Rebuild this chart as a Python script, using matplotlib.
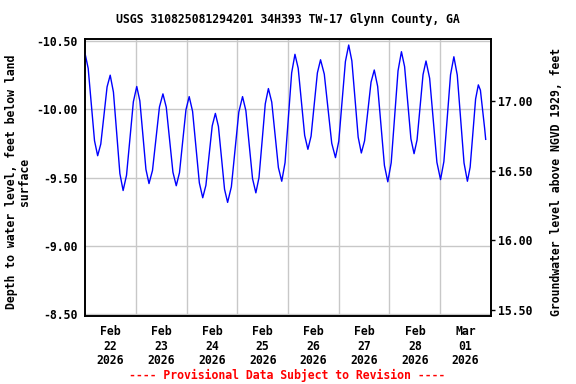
import numpy as np
import matplotlib
matplotlib.use("Agg")
import matplotlib.pyplot as plt

# ---- data (hours since 2026-02-22 00:00, depth to water in feet) ----
start_date = "2026-02-22T00:00"
hours = [
    0.00, 1.50, 2.99, 4.49,
    5.98, 7.46, 8.95, 10.43,
    11.91, 13.44, 14.97, 16.49,
    18.02, 19.63, 21.25, 22.86,
    24.47, 25.92, 27.37, 28.81,
    30.26, 31.91, 33.56, 35.20,
    36.85, 38.43, 40.00, 41.58,
    43.15, 44.68, 46.21, 47.74,
    49.27, 50.87, 52.47, 54.07,
    55.67, 57.17, 58.66, 60.16,
    61.65, 63.10, 64.55, 65.99,
    67.44, 69.21, 70.97, 72.74,
    74.50, 76.08, 77.65, 79.23,
    80.80, 82.28, 83.77, 85.25,
    86.73, 88.31, 89.89, 91.46,
    93.04, 94.60, 96.17, 97.73,
    99.29, 100.82, 102.35, 103.88,
    105.41, 106.91, 108.40, 109.90,
    111.39, 113.16, 114.92, 116.69,
    118.45, 120.02, 121.58, 123.15,
    124.71, 126.20, 127.70, 129.19,
    130.68, 132.21, 133.74, 135.27,
    136.80, 138.40, 140.00, 141.60,
    143.20, 144.81, 146.43, 148.04,
    149.65, 151.14, 152.64, 154.13,
    155.62, 157.03, 158.45, 159.86,
    161.27, 162.99, 164.71, 166.42,
    168.14, 169.72, 171.30, 172.87,
    174.45, 176.05, 177.65, 179.25,
    180.85, 182.14, 183.44, 184.73,
    186.02, 187.00, 188.00, 189.00, 189.50,
]
depth = [
    -10.410, -10.300, -10.035, -9.770,
    -9.660, -9.746, -9.955, -10.164,
    -10.250, -10.126, -9.828, -9.529,
    -9.405, -9.517, -9.786, -10.055,
    -10.167, -10.063, -9.812, -9.560,
    -9.456, -9.552, -9.785, -10.017,
    -10.113, -10.015, -9.777, -9.539,
    -9.440, -9.536, -9.767, -9.997,
    -10.093, -9.985, -9.723, -9.461,
    -9.352, -9.443, -9.661, -9.879,
    -9.970, -9.874, -9.644, -9.414,
    -9.318, -9.432, -9.706, -9.980,
    -10.093, -9.990, -9.741, -9.492,
    -9.388, -9.500, -9.770, -10.040,
    -10.152, -10.053, -9.813, -9.573,
    -9.473, -9.609, -9.938, -10.267,
    -10.403, -10.301, -10.055, -9.809,
    -9.707, -9.803, -10.035, -10.267,
    -10.363, -10.258, -10.005, -9.751,
    -9.646, -9.767, -10.059, -10.350,
    -10.471, -10.355, -10.076, -9.796,
    -9.680, -9.769, -9.984, -10.199,
    -10.288, -10.168, -9.879, -9.589,
    -9.469, -9.609, -9.946, -10.282,
    -10.422, -10.313, -10.049, -9.784,
    -9.675, -9.775, -10.015, -10.254,
    -10.354, -10.227, -9.920, -9.612,
    -9.485, -9.617, -9.935, -10.253,
    -10.385, -10.251, -9.929, -9.607,
    -9.473, -9.576, -9.826, -10.076,
    -10.179, -10.140, -10.000, -9.860, -9.780,
]

day_labels = ["Feb\n22\n2026", "Feb\n23\n2026", "Feb\n24\n2026", "Feb\n25\n2026",
              "Feb\n26\n2026", "Feb\n27\n2026", "Feb\n28\n2026", "Mar\n01\n2026"]
left_ticks = [-10.5, -10.0, -9.5, -9.0, -8.5]
left_tick_labels = ["-10.50", "-10.00", "-9.50", "-9.00", "-8.50"]
right_ticks = [17.0, 16.5, 16.0, 15.5]
right_tick_labels = ["17.00", "16.50", "16.00", "15.50"]

title = "USGS 310825081294201 34H393 TW-17 Glynn County, GA"
left_label = "Depth to water level, feet below land\nsurface"
right_label = "Groundwater level above NGVD 1929, feet"
footer = "---- Provisional Data Subject to Revision ----"

# ---- plotting ----
FONT = "DejaVu Sans Mono"
FS = 8.3
plt.rcParams["font.family"] = FONT
plt.rcParams["font.weight"] = "bold"

t0 = np.datetime64(start_date)
times = t0 + (np.array(hours) * 3600).astype("timedelta64[s]")

fig = plt.figure(figsize=(5.76, 3.84), dpi=100)
ax = fig.add_axes([0.1476, 0.1779, 0.7048, 0.7205])

ax.plot(times, depth, color="#0000ff", lw=1.0, zorder=3)

day0 = np.datetime64("2026-02-22")
ax.set_xlim(day0, day0 + np.timedelta64(8, "D"))
ax.set_ylim(-8.488, -10.515)

noon = [day0 + np.timedelta64(12 + 24 * i, "h") for i in range(len(day_labels))]
midnight = [day0 + np.timedelta64(24 * i, "h") for i in range(1, len(day_labels))]
ax.set_xticks(noon)
ax.set_xticklabels(day_labels, fontsize=FS, fontweight="bold", linespacing=1.13)
ax.set_xticks(midnight, minor=True)
ax.tick_params(axis="x", which="both", length=0, pad=7)
ax.grid(True, axis="x", which="minor", color="#c8c8c8", lw=1.0)
ax.grid(False, axis="x", which="major")

ax.set_yticks(left_ticks)
ax.set_yticklabels(left_tick_labels, fontsize=FS, fontweight="bold")
ax.tick_params(axis="y", length=0, pad=5.5)
ax.grid(True, axis="y", color="#c8c8c8", lw=1.0)
ax.set_axisbelow(True)

for s in ax.spines.values():
    s.set_linewidth(1.2)
    s.set_color("black")

ax2 = ax.twinx()
ax2.set_ylim(15.459, 17.445)
ax2.set_yticks(right_ticks)
ax2.set_yticklabels(right_tick_labels, fontsize=FS, fontweight="bold")
ax2.tick_params(axis="y", length=3, width=1, pad=2, direction="out")
for s in ax2.spines.values():
    s.set_linewidth(1.2)

fig.text(0.1476 + 0.7048 / 2, 1 - 20 / 384, title, ha="center", va="center",
         fontsize=FS, fontweight="bold")
fig.text(18 / 576, 1 - 182 / 384, left_label, rotation=90, ha="center",
         va="center", fontsize=FS, fontweight="bold", linespacing=1.0)
fig.text(556 / 576, 1 - 182 / 384, right_label, rotation=90, ha="center",
         va="center", fontsize=FS, fontweight="bold")
fig.text(287 / 576, 1 - 375 / 384, footer, ha="center", va="center",
         fontsize=FS, fontweight="bold", color="#ff0000")

fig.savefig("out.png", dpi=100)
